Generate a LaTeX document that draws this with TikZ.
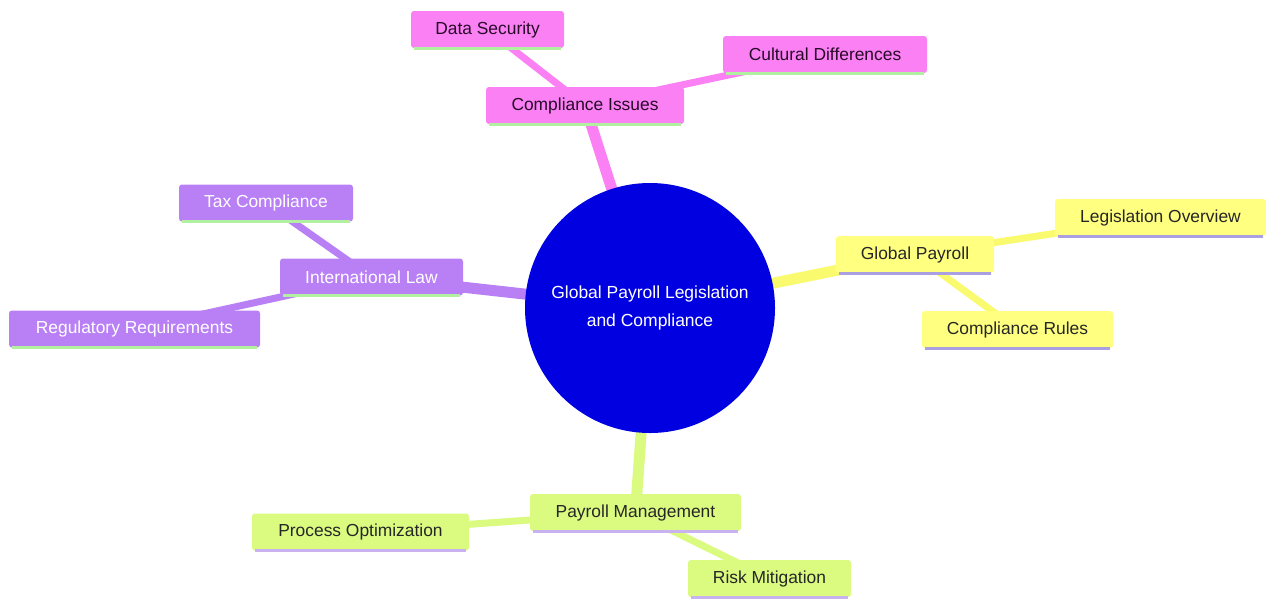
\documentclass[tikz,border=0pt]{standalone}
\usepackage{fontspec}
\setmainfont{Liberation Sans}
\usetikzlibrary{backgrounds}
\definecolor{cblue}{RGB}{0,0,225}
\definecolor{cpink}{RGB}{250,128,244}
\definecolor{cpurple}{RGB}{185,128,245}
\definecolor{cyellow}{RGB}{255,255,128}
\definecolor{cgreen}{RGB}{218,250,128}
\definecolor{lgreen}{RGB}{176,240,160}
\definecolor{lilac}{RGB}{170,160,225}
\definecolor{lilac2}{RGB}{200,178,240}
\definecolor{dtext}{RGB}{40,10,40}
\definecolor{yline}{RGB}{250,250,110}
\tikzset{
  box/.style={rectangle, rounded corners=3pt, minimum height=37pt, inner sep=0pt,
    font=\fontsize{17.4}{20}\selectfont},
  pinkbox/.style={box, fill=cpink, text=dtext},
  purplebox/.style={box, fill=cpurple, text=white},
  yellowbox/.style={box, fill=cyellow, text=black!85},
  greenbox/.style={box, fill=cgreen, text=black!85},
  trunk/.style={line width=11pt},
  twig/.style={line width=7pt},
  underline/.style={line width=3pt}
}
\begin{document}
\begin{tikzpicture}[x=1pt,y=-1pt]
\useasboundingbox (0,0) rectangle (1266,598);
% center
\node[circle, fill=cblue, minimum size=250pt, inner sep=0pt, text=white, align=center,
  font=\fontsize{17.5}{28}\selectfont] (root) at (650,308) {Global Payroll Legislation\\and Compliance};
% pink branch
\node[pinkbox, minimum width=198pt] (ci) at (585,105.5) {Compliance Issues};
\node[pinkbox, minimum width=153pt] (ds) at (487.5,29.5) {Data Security};
\node[pinkbox, minimum width=204pt] (cd) at (825,54.5) {Cultural Differences};
% purple branch
\node[purplebox, minimum width=183pt] (il) at (371.5,277) {International Law};
\node[purplebox, minimum width=174pt] (tc) at (266,203) {Tax Compliance};
\node[purplebox, minimum width=251pt] (rr) at (134.5,329) {Regulatory Requirements};
% yellow branch
\node[yellowbox, minimum width=158pt] (gp) at (915,254.5) {Global Payroll};
\node[yellowbox, minimum width=211pt] (lo) at (1160.5,217.5) {Legislation Overview};
\node[yellowbox, minimum width=191pt] (cr) at (1017.5,329.5) {Compliance Rules};
% green branch
\node[greenbox, minimum width=211pt] (pm) at (635.5,512.5) {Payroll Management};
\node[greenbox, minimum width=217pt] (po) at (360.5,532) {Process Optimization};
\node[greenbox, minimum width=163pt] (rm) at (769.5,578.5) {Risk Mitigation};
% underlines
\foreach \n in {ci,ds,cd,il,tc,rr}{
  \draw[underline, lgreen] ([xshift=3pt]\n.south west) -- ([xshift=-3pt]\n.south east);
}
\foreach \n in {gp,lo,cr}{
  \draw[underline, lilac] ([xshift=3pt]\n.south west) -- ([xshift=-3pt]\n.south east);
}
\foreach \n in {pm,po,rm}{
  \draw[underline, lilac2] ([xshift=3pt]\n.south west) -- ([xshift=-3pt]\n.south east);
}
\begin{scope}[on background layer]
  \fill[white] (0,0) rectangle (1266,598);
  \draw[trunk, cpink] (root.center) -- (ci.center);
  \draw[twig, cpink] (ci.center) -- (ds.center);
  \draw[twig, cpink] (ci.center) -- (cd.center);
  \draw[trunk, cpurple] (root.center) -- (il.center);
  \draw[twig, cpurple] (il.center) -- (tc.center);
  \draw[twig, cpurple] (il.center) -- (rr.center);
  \draw[trunk, yline] (root.center) -- (gp.center);
  \draw[twig, yline] (gp.center) -- (lo.center);
  \draw[twig, yline] (gp.center) -- (cr.center);
  \draw[trunk, cgreen] (root.center) -- (pm.center);
  \draw[twig, cgreen] (pm.center) -- (po.center);
  \draw[twig, cgreen] (pm.center) -- (rm.center);
\end{scope}
\end{tikzpicture}
\end{document}
